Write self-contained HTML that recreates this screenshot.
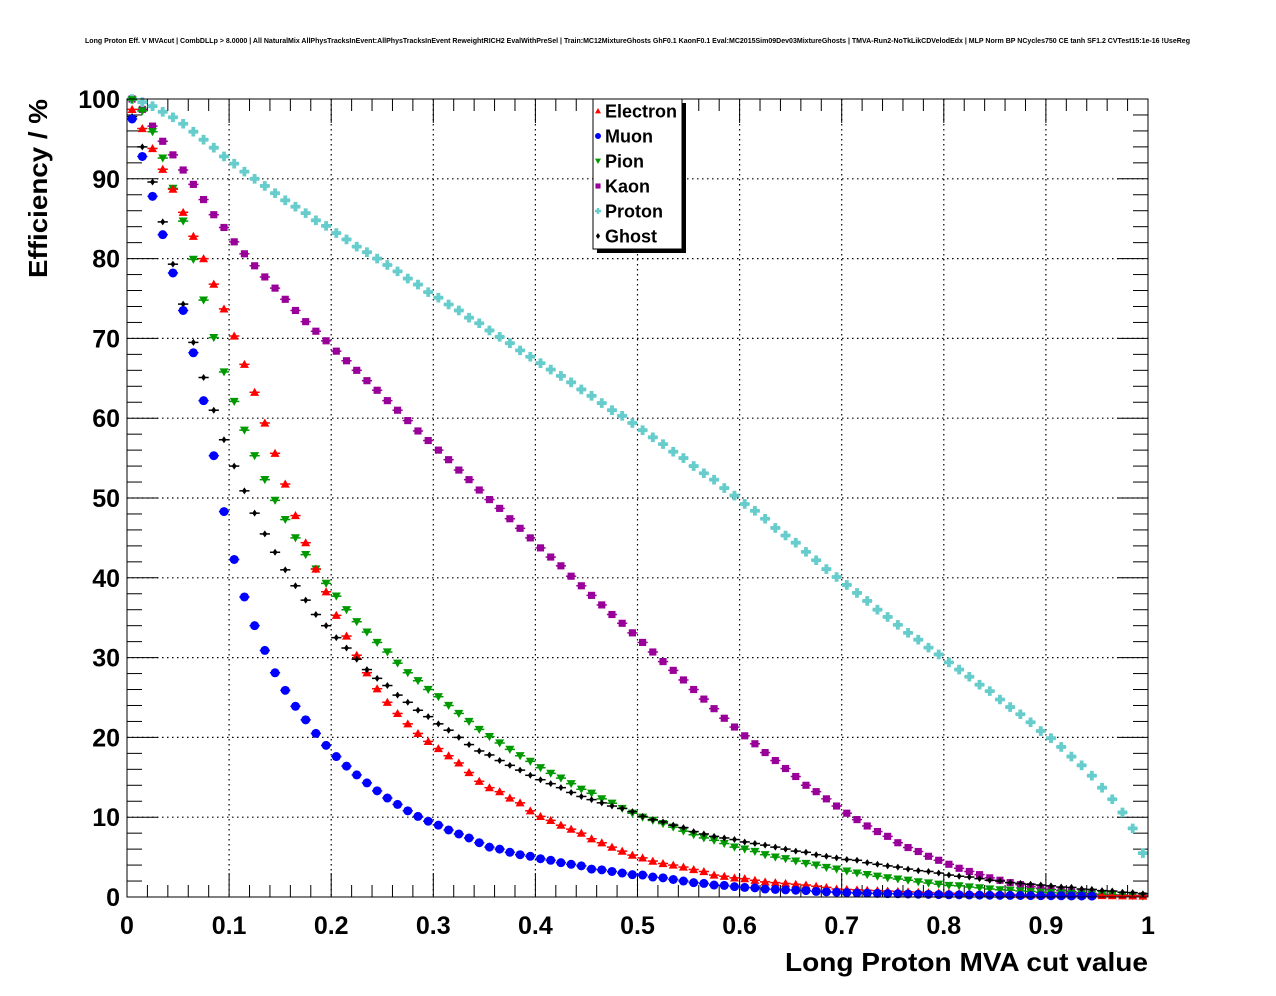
<!DOCTYPE html>
<html><head><meta charset="utf-8"><style>
html,body{margin:0;padding:0;background:#fff;}
svg{display:block;font-family:"Liberation Sans",Arial,sans-serif;}
</style></head><body>
<svg id="chart" width="1276" height="996" viewBox="0 0 1276 996">
<rect x="0" y="0" width="1276" height="996" fill="#fff"/>
<text x="85" y="43" font-size="7" font-weight="bold" textLength="1105" lengthAdjust="spacingAndGlyphs">Long Proton Eff. V MVAcut | CombDLLp &gt; 8.0000 | All NaturalMix AllPhysTracksInEvent:AllPhysTracksInEvent ReweightRICH2 EvalWithPreSel | Train:MC12MixtureGhosts GhF0.1 KaonF0.1 Eval:MC2015Sim09Dev03MixtureGhosts | TMVA-Run2-NoTkLikCDVelodEdx | MLP Norm BP NCycles750 CE tanh SF1.2 CVTest15:1e-16 !UseReg</text>
<g id="grid"></g>
<g id="ticks"></g>
<g id="marks"></g>
<rect x="127" y="99" width="1021" height="798" fill="none" stroke="#000" stroke-width="1"/>
<text x="1148" y="971" font-size="26" font-weight="bold" text-anchor="end" textLength="363" lengthAdjust="spacingAndGlyphs">Long Proton MVA cut value</text>
<text transform="translate(47,278) rotate(-90)" font-size="26" font-weight="bold" textLength="179" lengthAdjust="spacingAndGlyphs">Efficiency / %</text>
<g id="legend">
<rect x="597" y="103" width="89" height="150" fill="#000"/>
<rect x="593" y="99" width="89" height="150" fill="#fff" stroke="#000" stroke-width="1"/>
</g>
</svg>
<script>
const categories = [];
for (let i = 0; i < 100; i++) categories.push((i + 0.5) / 100);
const xTicks = ["0","0.1","0.2","0.3","0.4","0.5","0.6","0.7","0.8","0.9","1"];
const yTicks = ["0","10","20","30","40","50","60","70","80","90","100"];
const seriesNames = ["Electron","Muon","Pion","Kaon","Proton","Ghost"];
const electron = [98.7,96.3,93.8,91.2,88.7,85.8,82.8,80.0,76.8,73.7,70.3,66.75,63.25,59.4,55.6,51.75,47.8,44.4,41.1,38.25,35.3,32.7,30.3,28.1,26.1,24.4,23.0,21.7,20.5,19.5,18.6,17.7,16.8,15.6,14.5,13.7,13.2,12.4,11.8,10.8,10.1,9.6,9.0,8.5,8.0,7.3,6.8,6.25,5.75,5.25,4.9,4.5,4.2,4.0,3.75,3.45,3.2,2.75,2.6,2.4,2.3,2.1,1.9,1.8,1.7,1.6,1.5,1.35,1.2,1.0,0.95,0.9,0.85,0.8,0.75,0.7,0.65,0.6,0.55,0.5,0.48,0.45,0.42,0.4,0.38,0.35,0.33,0.3,0.28,0.26,0.25,0.24,0.22,0.2,0.19,0.18,0.17,0.15,0.14,0.12];
const muon = [97.5,92.8,87.8,83.0,78.2,73.5,68.2,62.2,55.3,48.3,42.3,37.6,34.0,30.9,28.1,25.9,23.9,22.2,20.5,19.0,17.6,16.4,15.3,14.3,13.3,12.4,11.6,10.8,10.1,9.5,9.0,8.4,7.9,7.4,6.8,6.25,6.0,5.6,5.3,5.1,4.8,4.6,4.3,4.1,3.9,3.5,3.4,3.2,3.0,2.8,2.75,2.5,2.4,2.2,2.0,1.8,1.7,1.5,1.45,1.3,1.2,1.15,1.0,0.95,0.9,0.85,0.8,0.7,0.65,0.6,0.55,0.5,0.48,0.45,0.42,0.4,0.38,0.35,0.33,0.3,0.28,0.27,0.25,0.24,0.22,0.21,0.2,0.19,0.18,0.17,0.16,0.15,0.14,0.13,0.12,0,0,0,0,0];
const pion = [99.9,98.5,95.9,92.6,88.8,84.7,79.9,74.8,70.1,65.8,62.1,58.5,55.3,52.3,49.7,47.3,45.0,42.9,41.1,39.3,37.7,36.0,34.5,33.2,31.9,30.7,29.3,28.1,27.1,26.0,25.1,24.0,23.0,22.0,21.0,20.1,19.3,18.5,17.7,17.0,16.2,15.5,14.9,14.2,13.5,13.0,12.3,11.75,11.1,10.5,10.0,9.6,9.2,8.75,8.25,7.8,7.4,7.1,6.7,6.25,6.0,5.7,5.3,5.0,4.8,4.5,4.2,4.0,3.7,3.5,3.25,3.0,2.8,2.6,2.4,2.25,2.1,1.9,1.75,1.6,1.45,1.4,1.25,1.15,1.0,0.9,0.85,0.75,0.7,0.6,0.55,0.5,0.45,0.4,0.35,0.3,0.25,0.2,0.15,0.1];
const kaon = [100.0,98.7,96.6,94.7,93.0,91.1,89.3,87.4,85.5,83.9,82.1,80.6,79.1,77.7,76.3,74.9,73.5,72.1,70.9,69.7,68.4,67.2,66.0,64.7,63.5,62.2,61.0,59.7,58.4,57.2,56.0,54.8,53.5,52.3,51.0,49.8,48.7,47.4,46.2,45.0,43.75,42.6,41.5,40.2,39.0,37.8,36.6,35.4,34.3,33.1,31.9,30.7,29.5,28.4,27.2,26.0,24.8,23.6,22.4,21.3,20.2,19.2,18.1,17.1,16.1,15.1,14.0,13.2,12.3,11.4,10.5,9.7,8.9,8.2,7.6,6.8,6.2,5.7,5.1,4.6,4.1,3.6,3.2,2.8,2.4,2.1,1.8,1.55,1.3,1.1,0.95,0.8,0.65,0.55,0.45,0.35,0.3,0.25,0.2,0.15];
const proton = [100.0,99.6,99.1,98.4,97.7,96.9,95.9,94.9,93.9,92.8,91.9,90.9,90.0,89.1,88.2,87.3,86.5,85.7,84.8,84.1,83.2,82.4,81.5,80.8,80.0,79.2,78.4,77.5,76.75,75.8,75.1,74.25,73.5,72.6,71.9,71.0,70.2,69.4,68.5,67.7,66.9,66.1,65.3,64.5,63.6,62.8,61.9,61.0,60.3,59.4,58.5,57.6,56.75,55.8,55.0,54.0,53.1,52.3,51.25,50.3,49.25,48.4,47.4,46.25,45.3,44.4,43.25,42.2,41.1,40.1,39.1,38.1,37.1,36.0,35.1,34.1,33.1,32.25,31.25,30.4,29.4,28.5,27.6,26.6,25.8,24.75,23.8,22.9,21.9,20.8,19.9,18.8,17.6,16.5,15.2,13.7,12.25,10.6,8.6,5.5];
const ghost = [97.8,94.0,89.6,84.6,79.3,74.3,69.5,65.1,61.0,57.3,54.0,50.9,48.1,45.5,43.2,41.0,39.0,37.2,35.4,34.0,32.5,31.2,29.8,28.5,27.4,26.5,25.3,24.4,23.4,22.6,21.7,20.9,20.0,19.1,18.3,17.8,17.1,16.5,15.9,15.25,14.7,14.2,13.7,13.1,12.6,12.2,11.8,11.4,11.1,10.7,10.1,9.7,9.4,9.0,8.7,8.2,7.9,7.6,7.4,7.2,6.9,6.7,6.5,6.25,6.0,5.75,5.6,5.3,5.1,4.9,4.7,4.6,4.3,4.1,3.9,3.75,3.5,3.3,3.2,3.0,2.75,2.6,2.5,2.3,2.1,2.0,1.8,1.7,1.6,1.5,1.4,1.25,1.2,1.0,0.95,0.8,0.75,0.6,0.55,0.4];

const NS = "http://www.w3.org/2000/svg";
const X0 = 127, X1 = 1148, Y0 = 897, Y1 = 99;
function xScale(v){ return X0 + (X1 - X0) * v; }
function yScale(v){ return Y0 - (Y0 - Y1) * v / 100; }
function mk(tag, attrs, parent){ const e = document.createElementNS(NS, tag); for (const k in attrs) e.setAttribute(k, attrs[k]); parent.appendChild(e); return e; }

const grid = document.getElementById('grid');
const ticks = document.getElementById('ticks');
for (let i = 1; i < 10; i++) {
  const x = xScale(i / 10);
  const g = mk('line', {x1:x, x2:x, y1:Y1, y2:Y0, stroke:'#000', 'stroke-width':1.2, 'stroke-dasharray':'1.5,3.5'}, grid);
  
  
  const y = yScale(i * 10);
  const h = mk('line', {x1:X0, x2:X1, y1:y, y2:y, stroke:'#000', 'stroke-width':1.2, 'stroke-dasharray':'1.5,3.5'}, grid);
  
  
}
for (let i = 0; i <= 50; i++) {
  const v = i / 50, x = xScale(v), len = (i % 5 === 0) ? 24 : 12;
  const t = mk('line', {x1:x, x2:x, y1:Y0, y2:Y0 - len, stroke:'#000', 'stroke-width':1}, ticks);
  
  
  const t2 = mk('line', {x1:x, x2:x, y1:Y1, y2:Y1 + len, stroke:'#000', 'stroke-width':1}, ticks);
  
  
}
for (let i = 0; i <= 50; i++) {
  const y = yScale(i * 2), len = (i % 5 === 0) ? 31 : 15;
  const t = mk('line', {x1:X0, x2:X0 + len, y1:y, y2:y, stroke:'#000', 'stroke-width':1}, ticks);
  
  
  const t2 = mk('line', {x1:X1, x2:X1 - len, y1:y, y2:y, stroke:'#000', 'stroke-width':1}, ticks);
  
  
}
xTicks.forEach((lab, i) => {
  const t = mk('text', {x:xScale(i / 10), y:934, 'font-size':25, 'font-weight':'bold', 'text-anchor':'middle'}, ticks);
  t.textContent = lab;
  
  
});
yTicks.forEach((lab, i) => {
  const t = mk('text', {x:120, y:yScale(i * 10) + 9, 'font-size':25, 'font-weight':'bold', 'text-anchor':'end'}, ticks);
  t.textContent = lab;
  
  
});

const colors = ['#ff0000','#0000ff','#009900','#990099','#66cccc','#000000'];
function marker(kind, x, y, s, col, parent){
  let e;
  if (kind === 0) e = mk('polygon', {points:`${x},${y-s} ${x-s},${y+s*0.8} ${x+s},${y+s*0.8}`, fill:col}, parent);
  else if (kind === 1) e = mk('circle', {cx:x, cy:y, r:s, fill:col}, parent);
  else if (kind === 2) e = mk('polygon', {points:`${x},${y+s} ${x-s},${y-s*0.8} ${x+s},${y-s*0.8}`, fill:col}, parent);
  else if (kind === 3) e = mk('rect', {x:x-s*0.85, y:y-s*0.85, width:s*1.7, height:s*1.7, fill:col}, parent);
  else if (kind === 4) e = mk('path', {d:`M${x-s*0.4},${y-s}h${s*0.8}v${s*0.6}h${s*0.6}v${s*0.8}h${-s*0.6}v${s*0.6}h${-s*0.8}v${-s*0.6}h${-s*0.6}v${-s*0.8}h${s*0.6}z`, fill:col}, parent);
  else e = mk('polygon', {points:`${x},${y-s} ${x+s*0.7},${y} ${x},${y+s} ${x-s*0.7},${y}`, fill:col}, parent);
  return e;
}
const marks = document.getElementById('marks');
const allSeries = [electron, muon, pion, kaon, proton, ghost];
const sizes = [4.5, 4.5, 4.5, 4.2, 4.8, 3.5];
const order = [3, 4, 2, 0, 5, 1];
order.forEach(s => {
  const g = mk('g', {}, marks);
  
  
  allSeries[s].forEach((v, i) => {
    if (!(v > 0)) return;
    const c = categories[i], x = xScale(c), y = yScale(v);
    const eb = mk('line', {x1:xScale(c - 0.005), x2:xScale(c + 0.005), y1:y, y2:y, stroke:colors[s], 'stroke-width':1.5}, g);
    
    
    const m = marker(s, x, y, sizes[s], colors[s], g);
    
    
  });
});

const legend = document.getElementById('legend');
seriesNames.forEach((n, i) => {
  const y = 111 + 25 * i;
  const m = marker(i, 598, y, 3, colors[i], legend);
  
  
  const t = mk('text', {x:605, y:y + 6.5, 'font-size':18, 'font-weight':'bold'}, legend);
  t.textContent = n;
  
  
});
</script>
</body></html>
